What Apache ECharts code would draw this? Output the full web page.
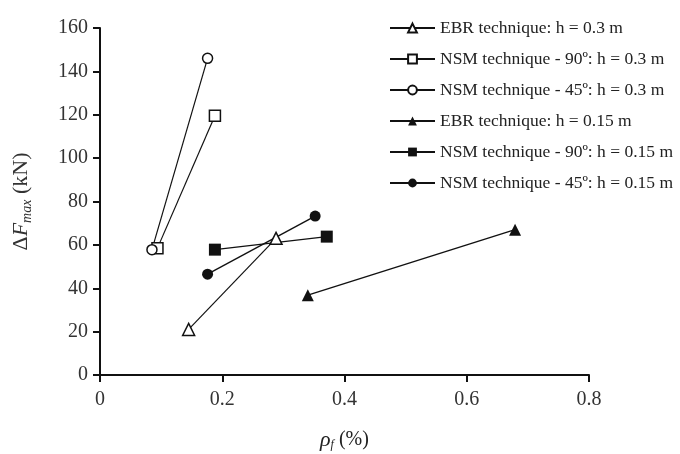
<!DOCTYPE html>
<html>
<head>
<meta charset="utf-8">
<script src="https://cdn.jsdelivr.net/npm/echarts@6/dist/echarts.min.js"></script>
<style>
  html, body { margin: 0; padding: 0; background: #fff; }
  #chart { width: 680px; height: 454px; }
</style>
</head>
<body>
<div id="chart"></div>
<script>
// Reinforcement ratio ρf (%) versus force increase ΔFmax (kN)
const seriesNames = [
  'EBR technique: h = 0.3 m',
  'NSM technique - 90º: h = 0.3 m',
  'NSM technique - 45º: h = 0.3 m',
  'EBR technique: h = 0.15 m',
  'NSM technique - 90º: h = 0.15 m',
  'NSM technique - 45º: h = 0.15 m'
];

const ebr30X = [0.145, 0.288];
const ebr30Y = [21, 63];
const nsm90h30X = [0.094, 0.188];
const nsm90h30Y = [58.5, 119.5];
const nsm45h30X = [0.085, 0.176];
const nsm45h30Y = [57.8, 146];
const ebr15X = [0.340, 0.679];
const ebr15Y = [36.8, 67];
const nsm90h15X = [0.188, 0.371];
const nsm90h15Y = [57.8, 63.8];
const nsm45h15X = [0.176, 0.352];
const nsm45h15Y = [46.5, 73.3];

const xTicks = [0, 0.2, 0.4, 0.6, 0.8];
const yTicks = [0, 20, 40, 60, 80, 100, 120, 140, 160];

const serif = '"Liberation Serif", "DejaVu Serif", serif';
const ink = '#111';

function pairs(xs, ys) {
  return xs.map((x, i) => [x, ys[i]]);
}

function makeSeries(name, xs, ys, symbol, filled, size, width) {
  return {
    name: name,
    type: 'line',
    data: pairs(xs, ys),
    symbol: symbol,
    symbolSize: size,
    showAllSymbol: true,
    lineStyle: { color: ink, width: width },
    itemStyle: {
      color: filled ? ink : '#fff',
      borderColor: ink,
      borderWidth: filled ? 0 : 1.5
    },
    emphasis: { disabled: true },
    z: 3
  };
}

const chart = echarts.init(document.getElementById('chart'), null, { renderer: 'canvas' });

chart.setOption({
  animation: false,
  backgroundColor: '#fff',
  grid: { left: 100, right: 91, top: 28, bottom: 79, containLabel: false, outerBoundsMode: 'none' },
  legend: {
    orient: 'vertical',
    left: 384,
    top: 14,
    itemWidth: 45,
    itemHeight: 11,
    itemGap: 13,
    data: seriesNames,
    textStyle: { fontFamily: serif, fontSize: 17.5, color: '#222', lineHeight: 18 },
    inactiveColor: '#222'
  },
  xAxis: {
    type: 'value',
    min: 0,
    max: 0.8,
    interval: 0.2,
    name: '{r|ρ}{s|f}{n| (%)}',
    nameLocation: 'middle',
    nameGap: 54,
    nameTextStyle: {
      rich: {
        r: { fontFamily: serif, fontStyle: 'italic', fontSize: 22, color: '#222' },
        s: { fontFamily: serif, fontStyle: 'italic', fontSize: 12, color: '#222', padding: [10, 0, 0, 0] },
        n: { fontFamily: serif, fontSize: 20, color: '#222' }
      }
    },
    axisLine: { show: true, onZero: false, lineStyle: { color: ink, width: 2 } },
    axisTick: { show: true, inside: false, length: 7, lineStyle: { color: ink, width: 2 } },
    axisLabel: {
      margin: 15,
      fontFamily: serif,
      fontSize: 20,
      color: '#333',
      formatter: v => {
        const t = xTicks.find(k => Math.abs(k - v) < 1e-9);
        return t === undefined ? '' : String(t);
      }
    },
    splitLine: { show: false }
  },
  yAxis: {
    type: 'value',
    min: 0,
    max: 160,
    interval: 20,
    name: '{d|Δ}{f|F}{s|max}{d| (kN)}',
    nameLocation: 'middle',
    nameGap: 66,
    nameRotate: 90,
    nameTextStyle: {
      rich: {
        d: { fontFamily: serif, fontSize: 22, color: '#333' },
        f: { fontFamily: serif, fontStyle: 'italic', fontSize: 22, color: '#333' },
        s: { fontFamily: serif, fontStyle: 'italic', fontSize: 14, color: '#333', padding: [12, 0, 0, 0] }
      }
    },
    axisLine: { show: true, onZero: false, lineStyle: { color: ink, width: 2 } },
    axisTick: { show: true, inside: false, length: 7, lineStyle: { color: ink, width: 2 } },
    axisLabel: {
      margin: 12,
      fontFamily: serif,
      fontSize: 20,
      color: '#333',
      formatter: v => (yTicks.indexOf(v) >= 0 ? String(v) : '')
    },
    splitLine: { show: false }
  },
  series: [
    makeSeries(seriesNames[0], ebr30X, ebr30Y, 'triangle', false, 12, 1.2),
    makeSeries(seriesNames[1], nsm90h30X, nsm90h30Y, 'rect', false, 11, 1.2),
    makeSeries(seriesNames[2], nsm45h30X, nsm45h30Y, 'circle', false, 10, 1.2),
    makeSeries(seriesNames[3], ebr15X, ebr15Y, 'triangle', true, 12, 1.4),
    makeSeries(seriesNames[4], nsm90h15X, nsm90h15Y, 'rect', true, 12, 1.4),
    makeSeries(seriesNames[5], nsm45h15X, nsm45h15Y, 'circle', true, 11, 1.4)
  ]
});
</script>
</body>
</html>
